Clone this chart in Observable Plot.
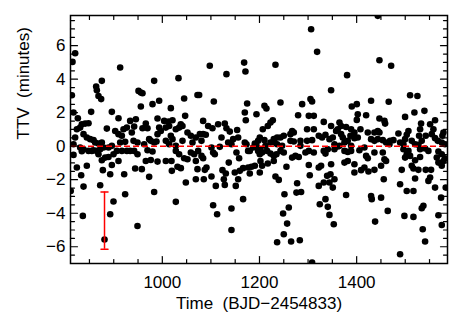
<!DOCTYPE html>
<html><head><meta charset="utf-8">
<script src="https://cdn.jsdelivr.net/npm/d3@7"></script>
<script src="https://cdn.jsdelivr.net/npm/@observablehq/plot@0.6"></script>
<style>body{margin:0;background:#fff}</style>
</head><body><div id="chart"></div>
<script>
// [time (BJD-2454833), TTV (minutes)]
const transits = [
[815.1,5.03],[820.6,5.55],[913.2,4.70],[813.8,3.04],[863.8,3.56],[865.2,3.34],[875.5,3.90],[868.6,3.00],[874.1,2.81],
[817.2,2.01],[853.5,2.05],[896.1,2.05],[909.8,1.67],[826.1,1.67],[834.3,1.31],[841.2,1.35],[848.1,1.37],[824.1,1.01],
[830.9,1.11],[820.6,0.52],[837.8,0.72],[844.6,0.52],[851.5,0.42],[858.4,0.36],[861.8,0.22],[868.6,0.16],[875.5,0.22],
[885.8,1.05],[903.0,0.91],[909.8,0.72],[916.7,0.62],[920.1,1.01],[927.0,1.11],[933.8,1.51],[937.2,0.82],[940.7,0.32],
[913.2,0.22],[923.5,0.26],[896.1,0.02],[889.2,-0.08],[817.2,0.12],[830.9,-0.08],[837.8,-0.18],[848.1,-0.28],[858.4,-0.24],
[865.2,-0.28],[872.1,-0.18],[879.0,-0.08],[817.2,-0.52],[834.3,-0.30],[875.5,-0.84],[882.4,-0.68],[889.2,-0.64],[899.5,-0.48],
[906.4,-0.28],[916.7,-0.28],[927.0,-0.28],[933.8,-0.28],[896.1,-1.12],[909.8,-0.88],[868.6,-0.48],[854.9,-0.28],[824.1,-1.27],
[833.0,-1.73],[837.8,-2.41],[844.6,-1.17],[872.1,-2.33],[877.6,-1.43],[892.7,-1.67],[921.5,-1.67],[923.5,-2.87],[811.5,-2.67],
[836.4,-4.16],[892.7,-4.06],[899.5,-3.30],[881.0,-5.57],
[983.2,3.90],[1033.3,4.06],[951.0,3.30],[955.8,3.20],[959.2,3.16],[1072.4,3.06],[1044.9,2.85],[993.5,2.71],[979.8,2.51],
[955.8,2.37],[1017.5,2.27],[945.5,1.61],[1047.0,1.81],[990.1,1.65],[966.0,1.35],[969.5,1.07],[959.2,1.07],[942.0,1.17],
[1003.8,1.51],[1012.7,1.47],[1020.9,1.55],[993.5,1.11],[996.9,0.91],[990.1,0.72],[1007.2,1.11],[1014.1,1.21],[1027.8,1.01],
[1034.6,1.11],[1041.5,1.21],[1038.0,1.31],[1051.8,0.82],[1058.7,0.62],[1017.5,0.62],[1020.9,0.42],[972.9,0.42],[976.3,0.32],
[983.2,0.22],[988.0,0.28],[948.9,0.22],[962.6,0.12],[1007.2,0.32],[1014.1,0.12],[1027.8,0.02],[1041.5,0.32],[1062.1,0.22],
[1068.9,0.52],[942.0,-0.28],[948.9,-0.48],[969.5,-0.24],[979.8,-0.32],[1007.2,-0.88],[1018.9,-0.88],[966.0,-0.88],[976.3,-0.82],
[990.1,-0.92],[1027.8,-0.28],[1034.6,-0.48],[1044.9,-0.72],[1051.8,-0.78],[1058.7,-0.38],[1065.5,-0.48],[1069.0,-0.88],
[1072.4,-1.37],[1069.0,-1.97],[944.1,-1.33],[957.8,-1.37],[972.9,-1.83],[983.2,-2.73],[1019.6,-1.47],[1031.2,-1.23],
[1038.1,-1.31],[1048.4,-2.17],[1027.8,-3.32],[948.9,-4.76],
[1097.7,4.80],[1132.0,4.30],[1168.4,4.99],[1171.1,4.46],[1075.8,3.06],[1106.0,2.67],[1174.6,2.55],[1169.8,2.01],[1193.8,1.91],
[1171.8,1.55],[1084.0,1.51],[1094.3,1.21],[1103.2,1.07],[1114.9,1.31],[1128.6,1.35],[1132.0,1.07],[1138.9,0.87],[1154.0,0.97],
[1077.2,0.72],[1084.0,0.72],[1089.5,0.68],[1121.8,0.52],[1145.8,0.42],[1156.1,0.52],[1080.6,0.32],[1135.5,0.22],[1142.3,0.12],
[1169.8,0.22],[1173.2,0.12],[1197.2,0.32],[1200.6,0.52],[1101.2,-0.08],[1118.3,-0.04],[1190.4,0.16],[1193.8,0.02],[1187.0,-0.08],
[1073.7,-0.28],[1080.6,-0.58],[1084.0,-0.72],[1104.6,-0.38],[1108.0,-0.48],[1152.6,-0.38],[1158.1,-0.72],[1176.6,-0.28],
[1180.0,-0.28],[1197.2,-0.28],[1200.6,-0.48],[1136.8,-0.98],[1090.9,-1.27],[1087.5,-1.41],[1123.8,-1.43],[1130.7,-1.63],
[1126.6,-1.97],[1149.2,-1.57],[1159.5,-1.47],[1156.1,-1.97],[1166.3,-1.31],[1176.6,-1.27],[1183.5,-1.23],[1190.4,-1.17],
[1180.0,-1.63],[1200.6,-1.57],[1085.4,-1.97],[1101.2,-1.81],[1110.1,-2.37],[1128.6,-2.31],[1151.2,-2.37],[1166.3,-3.16],
[1104.6,-3.52],[1112.8,-4.06],[1142.3,-3.72],[1142.3,-5.00],
[1306.3,6.98],[1318.6,5.63],[1232.9,4.86],[1210.2,2.41],[1214.3,2.25],[1243.2,2.61],[1287.8,2.51],[1304.9,2.81],[1308.3,2.67],
[1279.5,1.85],[1301.5,1.81],[1311.8,1.81],[1227.4,1.55],[1222.6,1.41],[1217.1,1.21],[1332.3,1.45],[1206.8,1.01],[1267.2,0.91],
[1270.6,0.82],[1263.7,0.72],[1298.0,1.01],[1311.8,1.01],[1322.0,0.62],[1328.9,0.52],[1335.8,0.68],[1243.2,0.52],[1250.0,0.62],
[1210.2,0.36],[1222.6,0.22],[1229.4,0.42],[1236.3,0.52],[1212.3,0.02],[1230.8,0.22],[1236.3,0.12],[1263.7,0.32],[1270.6,0.28],
[1284.3,0.32],[1298.0,0.32],[1308.3,0.36],[1246.6,0.02],[1284.3,0.02],[1202.0,-0.18],[1205.4,-0.38],[1215.7,-0.28],[1222.6,-0.44],
[1229.4,-0.58],[1234.9,-0.48],[1243.2,-0.28],[1250.0,-0.38],[1267.2,-0.68],[1274.0,-0.58],[1280.9,-0.64],[1294.6,-0.38],
[1301.5,-0.28],[1311.8,-0.38],[1332.3,-0.28],[1335.8,-0.44],[1202.0,-0.88],[1205.4,-1.17],[1217.1,-1.03],[1229.4,-0.88],
[1255.5,-1.23],[1301.5,-1.12],[1322.0,-1.27],[1326.8,-1.17],[1303.5,-1.73],[1232.9,-1.81],[1239.7,-2.01],[1277.5,-2.21],
[1276.1,-2.77],[1285.7,-2.73],[1332.3,-2.17],[1322.0,-2.37],[1251.4,-2.87],[1335.8,-3.16],[1324.1,-3.46],[1260.3,-3.66],
[1248.6,-4.02],[1256.9,-4.62],[1250.0,-5.25],[1236.3,-5.73],[1265.1,-5.69],[1283.0,-5.61],[1308.3,-6.95],
[1443.5,7.78],[1446.9,5.13],[1380.3,4.24],[1347.4,3.34],[1429.7,2.71],[1390.0,2.37],[1400.3,2.51],[1402.3,1.91],[1400.3,1.57],
[1419.5,1.85],[1446.9,1.65],[1457.2,1.51],[1458.6,1.35],[1347.4,1.21],[1364.6,1.41],[1368.0,1.21],[1361.1,1.01],[1357.7,0.91],
[1378.3,1.15],[1388.6,1.01],[1395.4,0.82],[1407.8,1.01],[1422.9,0.82],[1436.6,0.82],[1443.5,0.91],[1446.9,0.82],[1344.0,0.42],
[1350.9,0.52],[1368.0,0.72],[1371.4,0.52],[1381.7,0.32],[1387.2,0.62],[1395.4,0.48],[1402.3,0.52],[1429.7,0.42],[1436.6,0.32],
[1443.5,0.42],[1453.8,0.36],[1460.6,0.22],[1467.5,0.12],[1354.3,0.12],[1364.6,0.02],[1374.9,0.22],[1388.6,0.02],[1340.6,-0.18],
[1354.3,-0.18],[1361.1,-0.02],[1374.9,-0.28],[1381.7,-0.34],[1388.6,-0.28],[1405.7,-0.24],[1416.0,-0.08],[1419.5,-0.58],
[1422.9,-0.72],[1436.6,-0.38],[1453.8,-0.38],[1457.2,-0.78],[1460.6,-0.88],[1381.7,-0.88],[1374.9,-0.98],[1395.4,-1.08],
[1395.4,-1.57],[1347.4,-1.08],[1339.2,-1.77],[1346.1,-1.67],[1354.3,-1.97],[1350.9,-2.47],[1344.0,-2.17],[1409.2,-1.43],
[1416.0,-1.27],[1424.3,-1.51],[1436.6,-1.41],[1450.3,-1.17],[1455.8,-1.97],[1378.3,-2.91],[1429.7,-2.97],[1431.1,-3.16],
[1450.3,-3.07],[1340.6,-3.62],[1344.0,-4.10],[1352.9,-4.66],[1438.0,-4.50],
[1471.0,4.80],[1510.0,3.04],[1525.1,3.00],[1466.0,2.65],[1518.9,2.01],[1539.5,2.11],[1499.7,1.75],[1561.4,1.55],[1551.2,1.31],
[1532.6,1.35],[1578.6,0.82],[1576.5,0.62],[1486.0,0.76],[1506.6,0.91],[1503.1,0.68],[1499.7,0.42],[1530.6,1.01],[1528.5,0.62],
[1534.0,0.32],[1542.2,0.62],[1558.0,1.01],[1554.6,0.72],[1561.4,0.48],[1567.0,0.32],[1468.8,0.32],[1475.7,0.36],[1489.4,0.22],
[1496.3,0.12],[1513.4,0.32],[1520.3,0.12],[1527.1,0.08],[1575.2,0.22],[1582.0,0.12],[1496.3,-0.18],[1506.6,-0.28],[1503.1,-0.48],
[1499.7,-0.68],[1530.6,-0.18],[1540.9,-0.14],[1547.7,-0.28],[1568.3,-0.32],[1575.2,-0.48],[1510.0,-0.58],[1520.3,-0.84],
[1530.6,-0.64],[1564.9,-0.68],[1568.3,-0.98],[1578.6,-0.88],[1575.2,-1.17],[1582.0,-0.72],[1492.8,-1.41],[1513.4,-1.17],
[1516.9,-1.33],[1527.1,-1.41],[1542.2,-1.41],[1553.2,-1.41],[1520.3,-1.93],[1551.2,-1.87],[1547.7,-2.07],[1489.4,-2.27],
[1503.1,-2.67],[1516.9,-2.67],[1561.4,-2.47],[1583.4,-2.47],[1573.8,-3.07],[1537.4,-3.56],[1534.0,-3.70],[1464.0,-3.86],
[1498.3,-4.16],[1516.9,-4.22],[1568.3,-4.12],[1575.2,-4.70],[1536.0,-4.96],[1540.9,-5.69],[1489.4,-6.45]
];

const xDomain = [811, 1587];
const yDomain = [-7, 7.8];
const xMajorTicks = [1000, 1200, 1400];
const xMinorTicks = [850, 900, 950, 1050, 1100, 1150, 1250, 1300, 1350, 1450, 1500, 1550];
const yMajorTicks = [-6, -4, -2, 0, 2, 4, 6];
const yMinorTicks = [-6.5, -5.5, -5, -4.5, -3.5, -3, -2.5, -1.5, -1, -0.5, 0.5, 1, 1.5, 2.5, 3, 3.5, 4.5, 5, 5.5, 6.5, 7, 7.5];
const zeroLevel = [0];
const errorBar = [{time: 881, low: -6.15, high: -2.73}];
const xTitle = "Time\u00a0 (BJD\u22122454833)";
const yTitle = "TTV\u00a0 (minutes)";

const FONT = "'Liberation Sans', Arial, sans-serif";
const FS = 17;

const tickShape = {draw(ctx, l) { ctx.moveTo(0, 0); ctx.lineTo(0, -l); }};
const barCap = {draw(ctx, l) { ctx.moveTo(0, -l / 2); ctx.lineTo(0, l / 2); }};

function ticks(data, len) {
  const o = {length: len, anchor: "start", shape: tickShape, stroke: "black", strokeWidth: 1.2};
  return [
    Plot.vector(data.x, {...o, x: d => d, y: yDomain[0], rotate: 0}),
    Plot.vector(data.x, {...o, x: d => d, y: yDomain[1], rotate: 180}),
    Plot.vector(data.y, {...o, y: d => d, x: xDomain[0], rotate: 90}),
    Plot.vector(data.y, {...o, y: d => d, x: xDomain[1], rotate: -90})
  ];
}

const chart = Plot.plot({
  width: 458, height: 327,
  marginLeft: 70, marginRight: 11, marginTop: 15, marginBottom: 64,
  x: {domain: xDomain},
  y: {domain: yDomain},
  style: {fontFamily: FONT, fontSize: FS + "px", color: "black", background: "white"},
  marks: [
    Plot.axisX(xMajorTicks, {tickSize: 0, tickPadding: 12, tickFormat: d => String(d), label: null, fontSize: FS, fill: "black"}),
    Plot.axisY(yMajorTicks, {tickSize: 0, tickPadding: 5, label: null, fontSize: FS, fill: "black"}),
    Plot.text([xTitle], {text: d => d, frameAnchor: "bottom", dy: 40, lineAnchor: "middle", fontSize: FS, fill: "black"}),
    Plot.text([yTitle], {text: d => d, frameAnchor: "left", dx: -47, rotate: -90, lineAnchor: "middle", fontSize: FS, fill: "black"}),
    Plot.dot(transits, {x: d => d[0], y: d => d[1], r: 3.3, fill: "black", clip: true}),
    Plot.ruleY(zeroLevel, {stroke: "red", strokeWidth: 1.5, strokeDasharray: "6,3"}),
    Plot.ruleX(errorBar, {x: "time", y1: "low", y2: "high", stroke: "red", strokeWidth: 1.5}),
    Plot.vector(errorBar, {x: "time", y: "low", length: 7, rotate: 90, anchor: "start", shape: barCap, stroke: "red", strokeWidth: 1.5}),
    Plot.vector(errorBar, {x: "time", y: "high", length: 7, rotate: 90, anchor: "start", shape: barCap, stroke: "red", strokeWidth: 1.5}),
    ...ticks({x: xMajorTicks, y: yMajorTicks}, 7),
    ...ticks({x: xMinorTicks, y: yMinorTicks}, 4),
    Plot.frame({stroke: "black", strokeWidth: 1.5})
  ]
});
document.getElementById("chart").appendChild(chart);
</script>
</body></html>
